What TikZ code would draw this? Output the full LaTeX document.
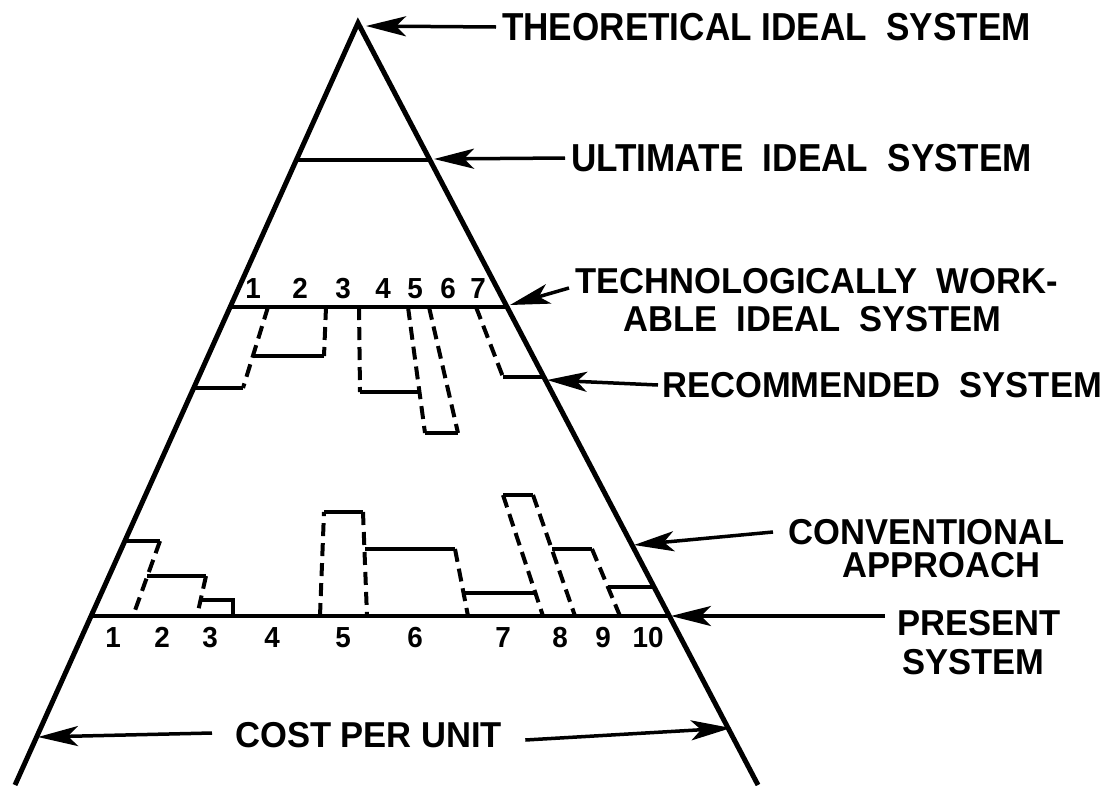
\documentclass[tikz,border=0pt]{standalone}
\usepackage{fontspec}
\setmainfont{Liberation Sans}
\newfontfamily\tallfont[FakeStretch=0.9]{Liberation Sans}
\newfontfamily\midfont[FakeStretch=0.96]{Liberation Sans}
\usetikzlibrary{arrows.meta}
\begin{document}
\begin{tikzpicture}[x=1pt,y=-1pt,
  lab/.style={font=\midfont\fontsize{36}{40}\selectfont\bfseries, inner sep=0pt, anchor=west},
  labtop/.style={font=\tallfont\fontsize{39}{42}\selectfont\bfseries, inner sep=0pt, anchor=west},
  num/.style={font=\midfont\fontsize{29}{31}\selectfont\bfseries, inner sep=0pt, text height=21pt, text depth=0pt},
  side/.style={line width=5pt, line join=miter},
  lvl/.style={line width=4.5pt},
  sol/.style={line width=4pt},
  dsh/.style={line width=4pt, dash pattern=on 13pt off 7pt},
  arr/.style={line width=3.5pt, -{Stealth[length=40pt,width=20pt,inset=10pt]}}
]
\useasboundingbox (0,0) rectangle (1116,785);

% triangle
\coordinate (apex) at (358,23);
\coordinate (bl) at (15,785);
\coordinate (br) at (758,785);
\draw[side] (bl) -- (apex) -- (br);

% levels
\coordinate (ultL) at (298,160);
\coordinate (ultR) at (430,160);
\draw[lvl] (ultL) -- (ultR);
\coordinate (techL) at (230,307);
\coordinate (techR) at (507,307);
\draw[lvl] (techL) -- (techR);
\coordinate (presL) at (91,616);
\coordinate (presR) at (669,616);
\draw[lvl] (presL) -- (presR);

% recommended system
\draw[dsh] (268,307) -- (243,388);
\draw[sol] (243,388) -- (194,388);
\draw[dsh] (326,307) -- (324,356);
\draw[sol] (324,356) -- (253,356);
\draw[dsh] (359,307) -- (360,392);
\draw[sol] (360,392) -- (419,392);
\draw[dsh] (408,307) -- (425,433);
\draw[dsh] (429,307) -- (458,433);
\draw[sol] (425,433) -- (458,433);
\draw[dsh] (476,307) -- (503,377);
\draw[sol] (503,377) -- (544,377);

% conventional approach
\draw[sol] (125,541) -- (160,541);
\draw[dsh] (160,541) -- (133,616);
\draw[sol] (147,576) -- (206,576);
\draw[dsh] (206,576) -- (197,616);
\draw[sol] (200,600) -- (233,600) -- (233,616);
\draw[dsh] (320,616) -- (324,512);
\draw[sol] (324,512) -- (363,512);
\draw[dsh] (363,512) -- (367,616);
\draw[sol] (365,549) -- (455,549);
\draw[dsh] (455,549) -- (468,616);
\draw[sol] (464,593) -- (537,593);
\draw[sol] (503,495) -- (533,495);
\draw[dsh] (503,495) -- (543,616);
\draw[dsh] (533,495) -- (575,616);
\draw[sol] (552,549) -- (592,549);
\draw[dsh] (592,549) -- (620,616);
\draw[sol] (608,587) -- (654,587);

% numbers above technologically workable line
\foreach \n/\x in {1/253,2/300,3/343,4/383,5/415,6/448,7/478}
  \node[num] (t\n) at (\x,288) {\n};
% numbers below present line
\foreach \n/\x in {1/113,2/162,3/210,4/272,5/343,6/415,7/503,8/560,9/603,10/648}
  \node[num] (p\n) at (\x,637) {\n};

% labels
\node[labtop] (theo) at (502,27) {THEORETICAL IDEAL\ \ SYSTEM};
\node[labtop] (ult) at (571,158) {ULTIMATE\ \ IDEAL\ \ SYSTEM};
\node[lab] (tech1) at (575,281) {TECHNOLOGICALLY\ \ WORK-};
\node[lab] (tech2) at (623,319) {ABLE\ \ IDEAL\ \ SYSTEM};
\node[lab] (rec) at (662,385) {RECOMMENDED\ \ SYSTEM};
\node[lab] (conv1) at (788,532) {CONVENTIONAL};
\node[lab] (conv2) at (842,565) {APPROACH};
\node[lab] (pres1) at (897,623) {PRESENT};
\node[lab] (pres2) at (902,662) {SYSTEM};
\node[lab] (cost) at (235,735) {COST PER UNIT};

% arrows
\coordinate (tTheo) at (366,26);
\coordinate (tUlt) at (434,159);
\coordinate (tTech) at (510,305);
\coordinate (tRec) at (547,380);
\coordinate (tConv) at (634,545);
\coordinate (tPres) at (671,616);
\coordinate (tCostL) at (38,737);
\coordinate (tCostR) at (731,728);
\draw[arr] ([xshift=-6pt]theo.west) -- (tTheo);
\draw[arr] ([xshift=-6pt]ult.west) -- (tUlt);
\draw[arr] ([xshift=-6pt,yshift=-7pt]tech1.west) -- (tTech);
\draw[arr] ([xshift=-4pt]rec.west) -- (tRec);
\draw[arr] ([xshift=-15pt]conv1.west) -- (tConv);
\draw[arr] ([xshift=-12pt,yshift=7pt]pres1.west) -- (tPres);
\draw[arr] ([xshift=-23pt,yshift=2pt]cost.west) -- (tCostL);
\draw[arr] ([xshift=23pt,yshift=-5pt]cost.east) -- (tCostR);
\end{tikzpicture}
\end{document}
